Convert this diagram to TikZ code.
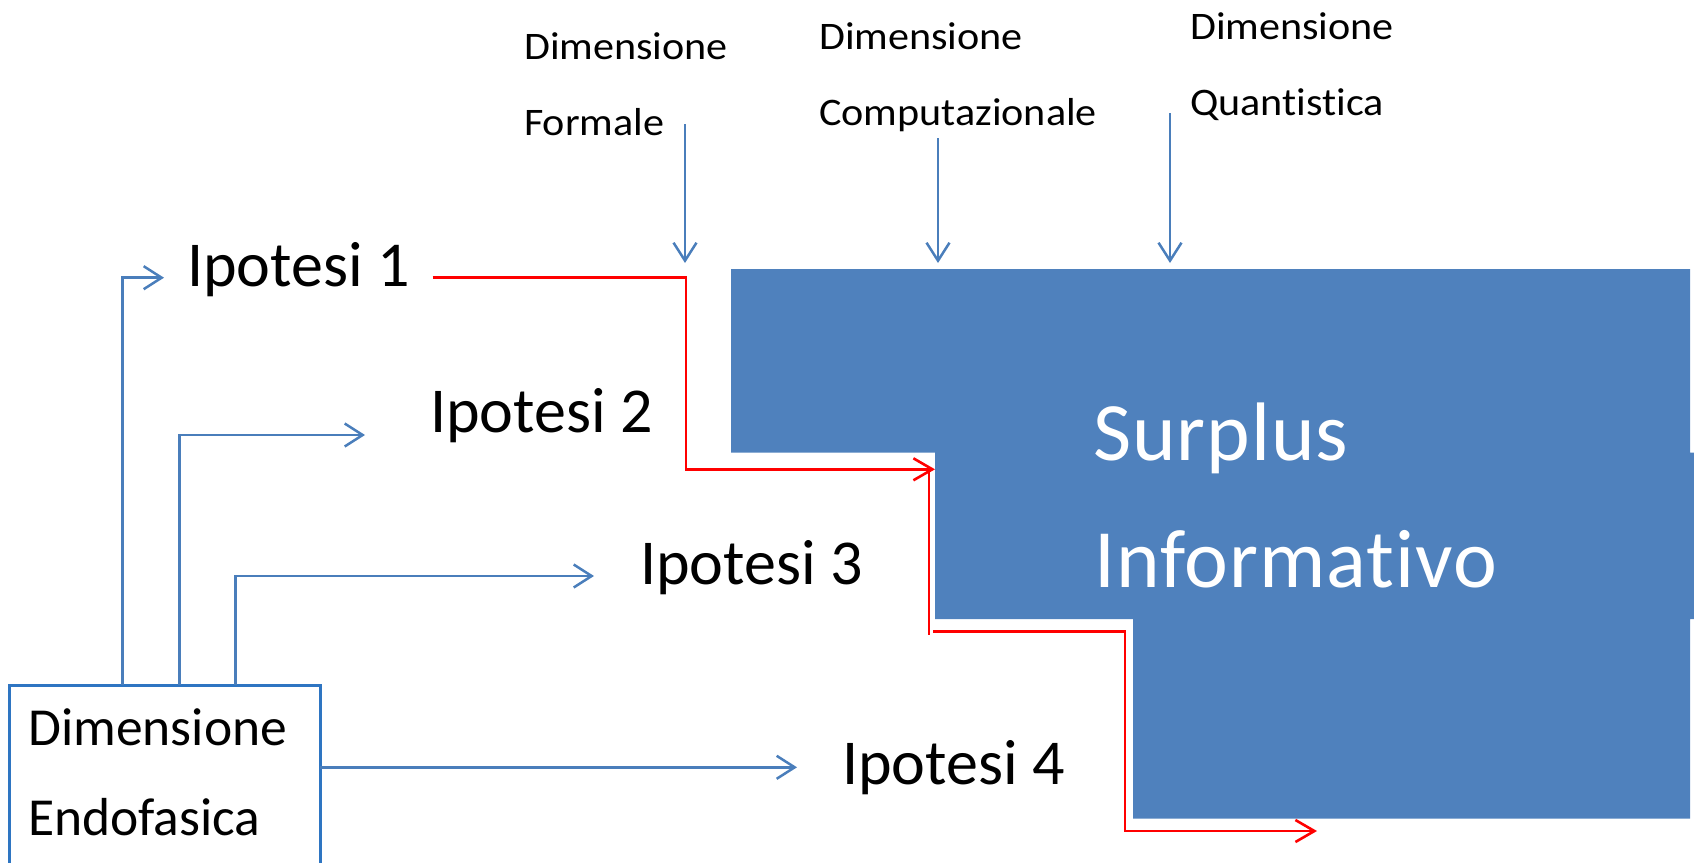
\documentclass[tikz,border=0pt]{standalone}
\usepackage{fontspec}
\setmainfont{Carlito}[RawFeature={-liga;-clig;-calt;-dlig}]
\newfontfamily\labelfont{Carlito}[FakeStretch=1.08, RawFeature={-liga;-clig;-calt;-dlig}]
\newfontfamily\bigfont{Carlito}[LetterSpace=1.2, RawFeature={-liga;-clig;-calt;-dlig}]
\usetikzlibrary{arrows.meta}

\definecolor{boxblue}{HTML}{4F81BD}
\definecolor{lineblue}{HTML}{4A7EBB}
\definecolor{frameblue}{HTML}{2E75C2}
\definecolor{pathred}{HTML}{FF0000}

\tikzset{
  bluelink/.style={draw=lineblue, line width=2.5pt},
  bluearrow/.style={bluelink, -{Straight Barb[length=18pt,width=23pt,line width=2.5pt]}},
  redlink/.style={draw=pathred, line width=2.6pt},
  redarrow/.style={redlink, -{Straight Barb[length=19pt,width=22pt,line width=2.6pt]}},
  hypo/.style={anchor=base west, inner sep=0pt, font=\fontsize{64}{75}\selectfont},
  dimlabel/.style={anchor=base west, inner sep=0pt, font=\labelfont\fontsize{39}{47}\selectfont},
  endolabel/.style={anchor=base west, inner sep=0pt, font=\fontsize{53.5}{60}\selectfont},
  surpluslabel/.style={anchor=base west, inner sep=0pt, text=white, font=\bigfont\fontsize{83}{95}\selectfont},
}

\begin{document}
\begin{tikzpicture}[x=1pt,y=-1pt]
  \useasboundingbox (0,0) rectangle (1694,862);

  % stepped block of the information surplus
  \fill[boxblue] (731,269) -- (1690,269) -- (1690,452.5) -- (1694,452.5)
    -- (1694,619) -- (1690,619) -- (1690,818.7) -- (1133,818.7)
    -- (1133,619) -- (935,619) -- (935,452.5) -- (731,452.5) -- cycle;
  \node[surpluslabel] (surplus1) at (1093,460) {Surplus};
  \node[surpluslabel] (surplus2) at (1094,587.3) {Informativo};

  % source box
  \node[draw=frameblue, line width=3pt, anchor=north west, outer sep=0pt,
        inner sep=0pt, minimum width=311pt, minimum height=220pt] (endo) at (9.3,685) {};
  \node[endolabel] (endo1) at (28,745) {Dimensione};
  \node[endolabel] (endo2) at (28,835) {Endofasica};

  % hypotheses
  \node[hypo] (i1) at (187,286.7) {Ipotesi 1};
  \node[hypo] (i2) at (430,432.3) {Ipotesi 2};
  \node[hypo] (i3) at (640,584.3) {Ipotesi 3};
  \node[hypo] (i4) at (842,784) {Ipotesi 4};

  % dimension labels on top
  \node[dimlabel] (form1) at (524,59.3) {Dimensione};
  \node[dimlabel] (form2) at (524,135) {Formale};
  \node[dimlabel] (comp1) at (819,49.3) {Dimensione};
  \node[dimlabel] (comp2) at (819,125) {Computazionale};
  \node[dimlabel] (quan1) at (1190,39.3) {Dimensione};
  \node[dimlabel] (quan2) at (1190,115) {Quantistica};

  % connector end points
  \coordinate (e1) at (122.7,685);
  \coordinate (e2) at (179.3,685);
  \coordinate (e3) at (235.3,685);
  \coordinate (t1) at (164,277.7);
  \coordinate (t2) at (365,435);
  \coordinate (t3) at (594,576);
  \coordinate (t4) at (797,767.3);

  \coordinate (fa) at (685,124);   \coordinate (fb) at (685,263);
  \coordinate (ca) at (938,138);   \coordinate (cb) at (938,263);
  \coordinate (qa) at (1170,113);  \coordinate (qb) at (1170,263);

  \coordinate (r0) at (432.7,277.7);
  \coordinate (r1) at (686,469.3);
  \coordinate (r2) at (935,469.3);
  \coordinate (r3) at (929,471);
  \coordinate (r4) at (929,635);
  \coordinate (r5) at (933,631.7);
  \coordinate (r6) at (1125,831);
  \coordinate (r7) at (1317,831);

  % from the source box to the hypotheses
  \draw[bluearrow] (e1) |- (t1);
  \draw[bluearrow] (e2) |- (t2);
  \draw[bluearrow] (e3) |- (t3);
  \draw[bluearrow] (endo.east |- t4) -- (t4);

  % dimensions pointing into the block
  \draw[bluearrow] (fa) -- (fb);
  \draw[bluearrow] (ca) -- (cb);
  \draw[bluearrow] (qa) -- (qb);

  % red route around the block
  \draw[redarrow] (r0) -| (r1) -- (r2);
  \draw[redlink] (r3) -- (r4);
  \draw[redarrow] (r5) -| (r6) -- (r7);
\end{tikzpicture}
\end{document}
